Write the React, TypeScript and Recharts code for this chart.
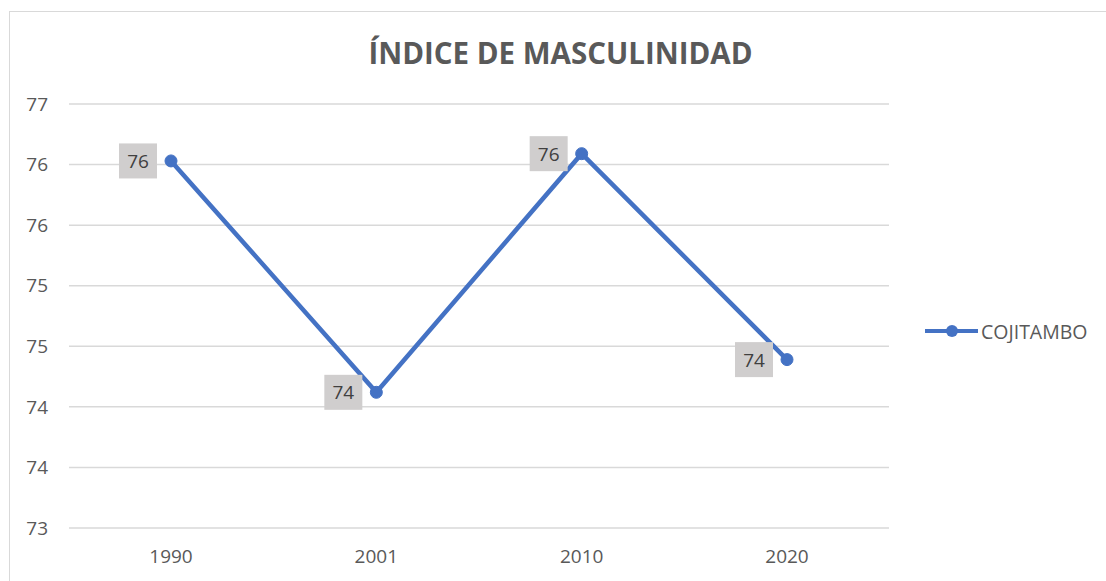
import React from 'react';
import { LineChart, Line, XAxis, YAxis, CartesianGrid, LabelList } from 'recharts';

const categories = ['1990', '2001', '2010', '2020'];
const cojitambo = [76.13, 74.22, 76.19, 74.49];
const yTicks = [73.1, 73.6, 74.1, 74.6, 75.1, 75.6, 76.1, 76.6];
const seriesName = 'COJITAMBO';
const title = 'ÍNDICE DE MASCULINIDAD';

const data = categories.map((c, i) => ({ year: c, COJITAMBO: cojitambo[i] }));

const FONT = '"Open Sans", "Liberation Sans", sans-serif';
const BLUE = '#4472c4';

const DataLabel = (props: any) => {
  const { x, y, value } = props;
  const w = 38;
  const h = 35;
  const cx = x - 33;
  return (
    <g>
      <rect x={cx - w / 2} y={y - h / 2} width={w} height={h} fill="#d0cece" />
      <text x={cx} y={y} textAnchor="middle" dominantBaseline="central" fontSize={19} fill="#404040" fontFamily={FONT}>
        {Math.round(value)}
      </text>
    </g>
  );
};

export default function App() {
  return (
    <div style={{ position: 'absolute', left: 0, top: 0, width: 1106, height: 581, overflow: 'hidden', background: '#fff', fontFamily: FONT }}>
      <div style={{ position: 'absolute', left: 9, top: 11, width: 1200, height: 700, border: '1px solid #d9d9d9' }} />
      <div style={{ position: 'absolute', left: 0, width: 1121, top: 34, textAlign: 'center', fontSize: 29.5, fontWeight: 700, color: '#595959', lineHeight: '38px' }}>
        {title}
      </div>
      <svg style={{ position: 'absolute', left: 925, top: 319 }} width={181} height={24}>
        <line x1={0} y1={12} x2={53} y2={12} stroke={BLUE} strokeWidth={4} />
        <circle cx={27} cy={12} r={6} fill={BLUE} />
        <text x={56} y={12} dominantBaseline="central" fontSize={19.5} fill="#595959" fontFamily={FONT}>
          {seriesName}
        </text>
      </svg>
      <div style={{ position: 'absolute', left: 0, top: 0 }}>
        <LineChart width={1106} height={581} data={data} margin={{ top: 104, right: 217, bottom: 23, left: 0 }}>
          <CartesianGrid horizontal vertical={false} stroke="#d9d9d9" strokeWidth={1.5} />
          <XAxis
            dataKey="year"
            height={30}
            axisLine={false}
            tickLine={false}
            tickSize={0}
            tickMargin={22}
            padding={{ left: 102, right: 102 }}
            tick={{ fontSize: 19, fill: '#595959', fontFamily: FONT }}
          />
          <YAxis
            width={69}
            domain={[73.1, 76.6]}
            ticks={yTicks}
            axisLine={false}
            tickLine={false}
            tickSize={0}
            tickMargin={21}
            tickFormatter={(v: number) => String(Math.round(v))}
            tick={{ fontSize: 19, fill: '#595959', fontFamily: FONT }}
          />
          <Line
            dataKey="COJITAMBO"
            name={seriesName}
            stroke={BLUE}
            strokeWidth={4.5}
            dot={{ r: 6, fill: BLUE, stroke: BLUE, strokeWidth: 1 }}
            isAnimationActive={false}
          >
            <LabelList dataKey="COJITAMBO" content={DataLabel} />
          </Line>
        </LineChart>
      </div>
    </div>
  );
}
